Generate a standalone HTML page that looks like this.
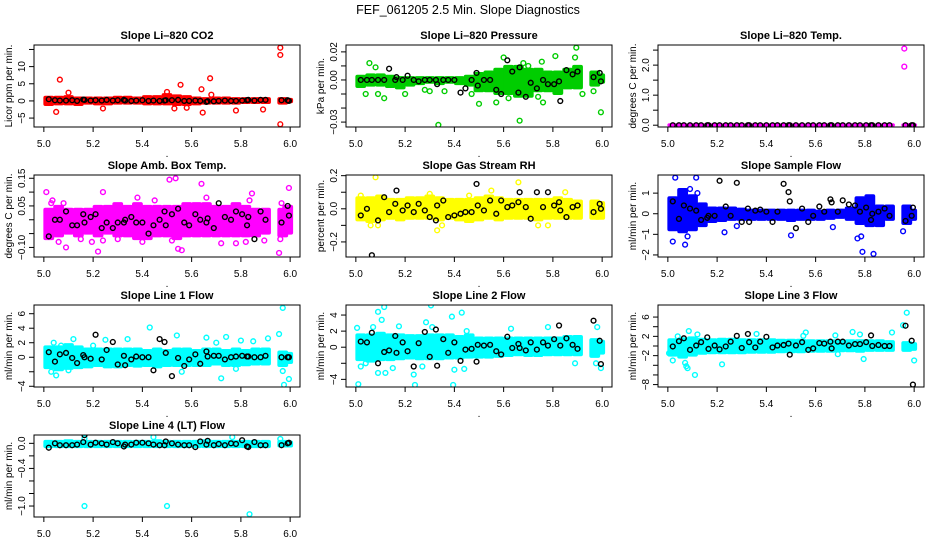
<!DOCTYPE html>
<html><head><meta charset="utf-8"><style>
html,body{margin:0;padding:0;background:#fff}
svg{display:block;font-family:"Liberation Sans",sans-serif}
</style></head><body>
<svg id="c" width="936" height="540" viewBox="0 0 936 540">
<text x="468" y="14" text-anchor="middle" font-size="12.5">FEF_061205  2.5 Min. Slope Diagnostics</text>
</svg>
<script>
// shared x data
const binX=[5.02,5.06,5.10,5.14,5.18,5.22,5.26,5.30,5.34,5.38,5.42,5.46,5.50,5.54,5.58,5.62,5.66,5.70,5.74,5.78,5.82,5.86,5.90,5.97,5.99];
const blackX=[5.02,5.045,5.065,5.09,5.115,5.135,5.16,5.165,5.19,5.21,5.235,5.255,5.28,5.30,5.325,5.33,5.355,5.375,5.40,5.425,5.445,5.47,5.49,5.495,5.52,5.545,5.57,5.59,5.615,5.635,5.66,5.665,5.69,5.71,5.735,5.76,5.78,5.805,5.825,5.83,5.855,5.88,5.90,5.965,5.99,5.995];
const xTicks=[5.0,5.2,5.4,5.6,5.8,6.0];
const xTickLabels=["5.0","5.2","5.4","5.6","5.8","6.0"];

// CO2
const co2Lo=[-1.2,-1,-1,-1.2,-0.8,-1,-1,-0.8,-0.8,-0.8,-1,-1,-1,-1.2,-1.2,-1,-0.8,-0.8,-0.8,-0.8,-0.6,-0.6,-0.6,-0.8,-0.4];
const co2Hi=[1.2,1.2,1.4,1,1,1,1,1.2,1.2,1,1.4,1.4,2,1.6,1.4,1,0.8,1,1,0.8,0.8,0.8,0.8,0.8,0.6];
const co2Out=[[5.05,-3.2],[5.065,6.2],[5.10,2.4],[5.24,-2.2],[5.53,-2.2],[5.555,4.7],[5.64,3.4],[5.645,-3.4],[5.675,6.6],[5.68,1.8],[5.78,-2.8],[5.89,-2.5],[5.96,15.5],[5.96,13.4],[5.96,-6.8],[5.58,-2],[5.50,2.6]];
const co2Black=[0.5,0.2,0.1,0.1,0.2,0,0.4,0.3,0.1,0.2,0.1,0.3,0.1,0.2,0.3,0.1,0,0.1,0.2,0,0.1,0,0.1,0.2,0.2,0.3,0,0,0.1,0,-0.3,-0.1,-0.1,0,0.1,0,0,0.1,0.2,0.3,0.1,0.3,0.3,0.2,0.2,0];
// Pressure
const presLo=[-0.005,-0.004,-0.004,-0.005,-0.006,-0.004,-0.003,-0.002,-0.003,-0.002,-0.003,-0.004,-0.008,-0.008,-0.010,-0.010,-0.012,-0.012,-0.008,-0.008,-0.010,-0.006,-0.006,-0.004,-0.002];
const presHi=[0.003,0.004,0.004,0.003,0.002,0.002,0.002,0.002,0.002,0.002,0.002,0.003,0.005,0.006,0.008,0.010,0.010,0.008,0.008,0.006,0.006,0.008,0.010,0.006,0.004];
const presOut=[[5.055,0.012],[5.08,0.009],[5.04,-0.010],[5.09,-0.010],[5.115,-0.013],[5.20,-0.010],[5.28,-0.007],[5.30,-0.008],[5.335,-0.032],[5.36,-0.008],[5.47,-0.010],[5.50,-0.017],[5.57,-0.016],[5.62,-0.013],[5.665,-0.029],[5.68,0.012],[5.74,-0.012],[5.755,0.013],[5.76,-0.016],[5.81,0.017],[5.895,0.023],[5.89,0.016],[5.60,0.016],[5.70,0.010],[5.92,-0.010],[5.965,-0.008],[5.995,-0.023]];
const presBlack=[0,0,0,0,0,0.008,0,0.002,0,0.003,0,-0.001,0,0,0,-0.003,0,0,0,-0.009,-0.006,0,0.005,-0.004,0,0,-0.007,-0.010,0.014,0.006,-0.009,0.009,-0.012,-0.002,-0.006,0,-0.003,-0.003,-0.001,-0.015,0.007,0.004,0.006,0.002,0.005,-0.001];
// Li-820 temp
const tempLo=[-0.02,-0.02,-0.02,-0.02,-0.02,-0.02,-0.02,-0.02,-0.02,-0.02,-0.02,-0.02,-0.02,-0.02,-0.02,-0.02,-0.02,-0.02,-0.02,-0.02,-0.02,-0.02,-0.02,-0.02,-0.02];
const tempHi=[0.03,0.03,0.03,0.03,0.03,0.03,0.03,0.03,0.03,0.03,0.03,0.03,0.03,0.03,0.03,0.03,0.03,0.03,0.03,0.03,0.03,0.03,0.03,0.03,0.03];
const tempOut=[[5.96,2.55],[5.96,1.95]];
const tempBlack=[0,0,0,0,0,0,0,0,0,0,0,0,0,0,0,0,0,0,0,0,0,0,0,0,0,0,0,0,0,0,0,0,0,0,0,0,0,0,0,0,0,0,0,0,0,0];
// Amb box temp
const ambLo=[-0.07,-0.06,-0.05,-0.06,-0.05,-0.06,-0.05,-0.06,-0.06,-0.07,-0.07,-0.06,-0.06,-0.07,-0.06,-0.06,-0.06,-0.06,-0.06,-0.06,-0.06,-0.06,-0.05,-0.06,-0.05];
const ambHi=[0.04,0.05,0.04,0.04,0.04,0.05,0.05,0.06,0.05,0.06,0.05,0.05,0.05,0.05,0.06,0.06,0.06,0.05,0.05,0.06,0.05,0.04,0.04,0.04,0.05];
const ambOut=[[5.01,0.10],[5.035,0.07],[5.06,-0.08],[5.09,-0.10],[5.08,0.06],[5.15,-0.07],[5.195,-0.08],[5.22,-0.115],[5.24,0.10],[5.24,-0.075],[5.30,-0.07],[5.38,0.08],[5.40,-0.08],[5.45,0.07],[5.51,0.145],[5.535,0.15],[5.52,-0.075],[5.545,-0.105],[5.56,-0.11],[5.64,0.13],[5.66,0.08],[5.72,-0.085],[5.78,-0.085],[5.82,-0.08],[5.835,0.07],[5.845,0.095],[5.895,-0.075],[5.955,-0.12],[5.96,-0.07],[5.965,0.06],[5.995,0.115],[5.03,0.06]];
const ambBlack=[-0.06,0,0,0.03,-0.02,-0.02,0.02,-0.01,0.01,0.02,-0.03,-0.01,-0.03,-0.01,-0.01,0,0.01,-0.01,-0.01,-0.05,-0.02,0,0.03,-0.02,0.02,0.04,-0.01,-0.02,0.02,0,-0.01,0.005,-0.03,0.06,0.01,0,0.03,0.02,-0.02,0.01,-0.07,0.03,0,-0.01,0.05,0.015];
// RH
const rhLo=[-0.07,-0.08,-0.07,-0.06,-0.07,-0.06,-0.06,-0.06,-0.07,-0.06,-0.07,-0.08,-0.07,-0.06,-0.07,-0.06,-0.06,-0.06,-0.07,-0.06,-0.06,-0.06,-0.06,-0.06,-0.06];
const rhHi=[0.07,0.07,0.08,0.06,0.06,0.07,0.07,0.08,0.07,0.06,0.06,0.06,0.07,0.08,0.07,0.06,0.06,0.06,0.06,0.06,0.07,0.06,0.05,0.05,0.04];
const rhOut=[[5.08,0.19],[5.06,-0.1],[5.09,-0.1],[5.33,-0.13],[5.35,-0.1],[5.55,0.11],[5.66,0.16],[5.74,-0.1],[5.78,-0.1],[5.85,0.1],[5.02,0.08],[5.30,0.09],[5.46,0.08]];
const rhBlack=[-0.04,0,-0.28,-0.07,0.07,-0.02,0.03,0.11,-0.01,0.02,-0.02,0.03,-0.01,-0.05,-0.07,0.02,0.05,-0.05,-0.04,-0.03,-0.02,-0.02,0.15,0.02,-0.01,0.05,-0.03,0.05,0.01,0.02,0.04,0.1,0.01,-0.06,0.1,0.01,0.1,0.02,0.04,-0.01,-0.05,0.01,0.02,-0.02,0.03,0];
// Sample flow
const sfLo=[-0.8,-0.9,-0.8,-0.6,-0.4,-0.35,-0.3,-0.3,-0.3,-0.3,-0.3,-0.3,-0.35,-0.3,-0.3,-0.3,-0.25,-0.2,-0.3,-0.5,-0.6,-0.6,-0.3,-0.5,-0.3];
const sfHi=[0.8,1.2,0.9,0.5,0.3,0.3,0.3,0.25,0.2,0.2,0.2,0.2,0.2,0.2,0.2,0.15,0.2,0.2,0.3,0.8,0.9,0.4,0.4,0.4,0.2];
const sfOut=[[5.03,1.75],[5.115,1.75],[5.02,-1.35],[5.07,-1.5],[5.08,-1.1],[5.23,-0.9],[5.28,-0.6],[5.50,-1.05],[5.67,-0.65],[5.77,-1.2],[5.785,-1.1],[5.79,-1.85],[5.835,-1.95],[5.955,-0.85],[5.12,1.0],[5.09,1.2]];
const sfBlack=[0.6,-0.25,0.4,0.25,0.15,-0.3,-0.2,-0.1,-0.1,1.6,0.35,-0.1,1.5,-0.4,0.25,-0.4,0.15,0.2,0.1,-0.4,0.1,1.45,1.05,0.6,-0.7,0.25,-0.4,-0.1,0.35,0.1,0.7,0.55,0.1,0.65,0.45,0.4,0.1,0.3,-0.3,0,0.1,0.25,-0.1,-0.35,-0.1,0.3];
// Line 1
const l1Lo=[-1.5,-1.8,-1.6,-1.5,-1.4,-1.2,-1.4,-1.4,-1.2,-1.3,-1.2,-1.4,-1.2,-1.2,-1.2,-1.2,-1.2,-1.0,-1.2,-1.2,-1.1,-1.0,-1.0,-1.2,-0.8];
const l1Hi=[1.5,1.5,1.8,1.5,1.2,1.2,1.2,1.2,1.2,1.2,1.0,1.2,1.0,1.2,1.2,1.0,1.2,1.2,1.0,1.2,1.0,1.2,1.2,0.8,0.6];
const l1Out=[[5.03,-2],[5.04,2],[5.05,-2.5],[5.07,1.6],[5.12,2.5],[5.20,1.6],[5.25,2.4],[5.34,2.5],[5.43,4.1],[5.54,3],[5.56,-2],[5.66,2.7],[5.72,-2.9],[5.74,2.8],[5.70,2],[5.80,2.3],[5.85,2.2],[5.91,2.6],[5.955,3.2],[5.97,6.8],[5.975,-3.8],[5.995,-3],[5.97,-1.9],[5.10,-1.8],[5.78,-1.6]];
const l1Black=[0.7,-0.6,0.4,0.6,-0.1,-0.8,0.3,0,-0.2,3.1,-0.3,1,2.1,-1,0.2,-1.1,-0.3,0.1,0,0,-1.8,2.5,2.1,0.6,-2.6,-0.1,-1.2,-0.3,0.4,-0.9,0.8,0.1,0.2,0.2,-0.3,0,0.1,0.2,0.1,0.1,0,0,0.2,0,0,0];
// Line 2
const l2Lo=[-1.6,-1.8,-1.6,-1.6,-1.5,-1.4,-1.5,-1.5,-1.5,-1.4,-1.4,-1.3,-1.3,-1.3,-1.2,-1.1,-1.0,-1.1,-1.1,-1.0,-1.0,-1.0,-1.0,-1.2,-0.8];
const l2Hi=[1.6,1.6,1.8,1.6,1.6,1.5,1.5,1.6,1.6,1.6,1.4,1.6,1.2,1.2,1.2,1.2,1.2,1.2,1.2,1.2,1.2,1.4,1.4,1.0,0.8];
const l2Out=[[5.005,2.4],[5.01,-4.6],[5.02,-2.4],[5.04,-2],[5.07,2.5],[5.09,4.4],[5.09,-3.2],[5.105,3.4],[5.115,5],[5.12,-3.2],[5.15,-2.6],[5.175,2.6],[5.235,-3.4],[5.24,-4.7],[5.27,-2.4],[5.285,3.1],[5.305,5.2],[5.31,2.5],[5.39,3.8],[5.395,-4.7],[5.40,-2.8],[5.43,4.3],[5.44,-2.7],[5.45,2.0],[5.78,2.5],[5.89,-2],[5.98,2.5],[5.975,-2],[5.995,-2.6],[5.63,2.3]];
const l2Black=[0.7,0.6,1.8,-2,-0.6,-0.4,1.4,-0.7,0.6,-0.5,-2.4,0.5,1.9,-1.2,2.2,-2.3,1,-0.7,0.6,-1.7,-0.3,-0.2,-1.8,0.3,0.2,0.3,-0.5,-0.9,1.3,-0.1,0.4,-0.1,-0.4,0.6,-0.3,0.6,0.2,1.0,2.7,0.2,1.1,0.3,-0.2,3.3,0.8,-2.1];
// Line 3
const l3Lo=[-2,-2.4,-2,-1.6,-1.5,-1.5,-1.5,-1.5,-1.4,-1.4,-1.4,-1.3,-1.3,-1.3,-1.2,-1.2,-1.2,-1.1,-1.1,-1.2,-1.0,-1.0,-1.0,-1.0,-0.8];
const l3Hi=[1.4,1.6,1.8,1.5,1.4,1.5,1.5,1.4,1.4,1.4,1.4,1.3,1.3,1.3,1.2,1.2,1.2,1.2,1.2,1.2,1.2,1.2,1.0,0.8,0.6];
const l3Out=[[5.005,-1.5],[5.02,-3],[5.04,2],[5.07,-3.5],[5.075,-4.2],[5.08,-4.6],[5.085,3.1],[5.11,-6],[5.12,2.4],[5.22,-3.8],[5.36,2.5],[5.56,2.8],[5.55,2.1],[5.69,-1.7],[5.75,2.9],[5.78,2.4],[5.795,-2.7],[5.91,2.8],[5.955,4.3],[5.97,6.9],[6.0,-3],[5.68,2.2]];
const l3Black=[-0.1,1,1.6,-0.8,0.1,0.8,1.8,-0.6,0.1,-0.7,-0.1,0.9,2.1,-0.4,2.5,0.8,-0.3,0.9,1.9,-0.3,0.1,0.2,0.5,-1.8,0.1,0.8,-0.8,-0.5,0.6,0.5,0.9,-0.5,0.9,0.9,0.1,0.4,0.4,0.8,2.2,0,0.2,0,0,4.2,1.1,-8];
// Line 4
const l4Lo=[-0.06,-0.06,-0.06,-0.06,-0.06,-0.06,-0.06,-0.06,-0.06,-0.06,-0.06,-0.06,-0.06,-0.06,-0.06,-0.06,-0.06,-0.06,-0.06,-0.06,-0.06,-0.06,-0.06,-0.05,-0.05];
const l4Hi=[0.04,0.04,0.05,0.04,0.04,0.04,0.04,0.04,0.04,0.04,0.04,0.05,0.04,0.04,0.04,0.04,0.05,0.04,0.04,0.04,0.04,0.04,0.04,0.04,0.03];
const l4Out=[[5.165,-1.0],[5.50,-1.0],[5.835,-1.13],[5.445,0.1],[5.765,0.1],[5.96,0.07],[5.165,0.08]];
const l4Black=[-0.07,0,-0.03,-0.03,-0.03,-0.02,0.02,0.13,-0.02,0.01,0,-0.02,0.02,0,-0.05,-0.02,-0.02,0.01,0.01,0,-0.02,-0.03,-0.03,0.03,0,-0.02,-0.03,-0.03,-0.06,0.03,-0.02,0.04,-0.03,-0.01,-0.03,0,-0.01,0.05,-0.05,-0.06,0.02,-0.03,-0.03,-0.03,0,0.01];

const panels=[
 {name:"co2",title:"Slope Li\u2013820 CO2",ylab:"Licor ppm per min.",col:0,row:0,ylim:[-7.6,16.3],ticks:[-5,0,5,10,15],labels:["\u22125","0","5","10",""],color:"#ff0000",lo:co2Lo,hi:co2Hi,out:co2Out,black:co2Black},
 {name:"pressure",title:"Slope Li\u2013820 Pressure",ylab:"kPa per min.",col:1,row:0,ylim:[-0.0335,0.0249],ticks:[-0.03,-0.02,-0.01,0,0.01,0.02],labels:["\u22120.03","","","0.00","","0.02"],color:"#00cd00",lo:presLo,hi:presHi,out:presOut,black:presBlack},
 {name:"li820-temp",title:"Slope Li\u2013820 Temp.",ylab:"degrees C per min.",col:2,row:0,ylim:[-0.06,2.67],ticks:[0,0.5,1,1.5,2,2.5],labels:["0.0","","1.0","","2.0",""],color:"#ff00ff",lo:tempLo,hi:tempHi,out:tempOut,black:tempBlack},
 {name:"amb-box-temp",title:"Slope Amb. Box Temp.",ylab:"degrees C per min.",col:0,row:1,ylim:[-0.1346,0.1618],ticks:[-0.1,-0.05,0,0.05,0.1,0.15],labels:["\u22120.10","","","0.05","","0.15"],color:"#ff00ff",lo:ambLo,hi:ambHi,out:ambOut,black:ambBlack},
 {name:"gas-stream-rh",title:"Slope Gas Stream RH",ylab:"percent per min.",col:1,row:1,ylim:[-0.291,0.204],ticks:[-0.2,-0.1,0,0.1,0.2],labels:["\u22120.2","","0.0","","0.2"],color:"#ffff00",lo:rhLo,hi:rhHi,out:rhOut,black:rhBlack},
 {name:"sample-flow",title:"Slope Sample Flow",ylab:"ml/min per min.",col:2,row:1,ylim:[-2.1,1.88],ticks:[-2,-1,0,1],labels:["\u22122","\u22121","0","1"],color:"#0000ff",lo:sfLo,hi:sfHi,out:sfOut,black:sfBlack},
 {name:"line1-flow",title:"Slope Line 1 Flow",ylab:"ml/min per min.",col:0,row:2,ylim:[-4.1,7.2],ticks:[-4,-2,0,2,4,6],labels:["\u22124","","0","2","4","6"],color:"#00ffff",lo:l1Lo,hi:l1Hi,out:l1Out,black:l1Black},
 {name:"line2-flow",title:"Slope Line 2 Flow",ylab:"ml/min per min.",col:1,row:2,ylim:[-4.95,5.25],ticks:[-4,-2,0,2,4],labels:["\u22124","","0","2","4"],color:"#00ffff",lo:l2Lo,hi:l2Hi,out:l2Out,black:l2Black},
 {name:"line3-flow",title:"Slope Line 3 Flow",ylab:"ml/min per min.",col:2,row:2,ylim:[-8.5,8.5],ticks:[-8,-6,-4,-2,0,2,4,6],labels:["\u22128","","","\u22122","","2","","6"],color:"#00ffff",lo:l3Lo,hi:l3Hi,out:l3Out,black:l3Black},
 {name:"line4-flow",title:"Slope Line 4 (LT) Flow",ylab:"ml/min per min.",col:0,row:3,ylim:[-1.175,0.133],ticks:[-1,-0.8,-0.6,-0.4,-0.2,0],labels:["\u22121.0","","","\u22120.4","","0.0"],color:"#00ffff",lo:l4Lo,hi:l4Hi,out:l4Out,black:l4Black}
];
const colLeft=[34,346,658], rowTop=[45,175,305,435], W=266, H=82;
const svg=document.getElementById('c'), NS="http://www.w3.org/2000/svg";
function mk(tag,attrs,parent){const e=document.createElementNS(NS,tag);for(const k in attrs)e.setAttribute(k,attrs[k]);(parent||svg).appendChild(e);return e;}
panels.forEach(p=>{
  const L=colLeft[p.col],T=rowTop[p.row];
  const g=mk('g',{});
  
  
  const xs=v=>L+(v-4.96)/(6.04-4.96)*W;
  const ys=v=>T+H-(v-p.ylim[0])/(p.ylim[1]-p.ylim[0])*H;
  const clip=mk('clipPath',{id:'cl'+p.name},g);
  mk('rect',{x:L,y:T,width:W,height:H},clip);
  const dg=mk('g',{'clip-path':'url(#cl'+p.name+')'},g);
  binX.forEach((bx,i)=>{
    const r=mk('rect',{x:xs(bx-0.022),y:ys(p.hi[i])-1,width:xs(bx+0.022)-xs(bx-0.022),height:ys(p.lo[i])-ys(p.hi[i])+2,rx:2,fill:p.color},dg);
    
    
  });
  p.out.forEach(pt=>{
    const c=mk('circle',{cx:xs(pt[0]),cy:ys(pt[1]),r:2.4,fill:'none',stroke:p.color,'stroke-width':1.4},dg);
    
    
  });
  blackX.forEach((bx,i)=>{
    const c=mk('circle',{cx:xs(bx),cy:ys(p.black[i]),r:2.4,fill:'none',stroke:'#000','stroke-width':1.4},dg);
    
    
  });
  const box=mk('rect',{x:L,y:T,width:W,height:H,fill:'none',stroke:'#000','stroke-width':1},g);
  
  
  mk('line',{x1:xs(5.0),x2:xs(6.0),y1:T+H,y2:T+H,stroke:'#000'},g);
  xTicks.forEach((t,i)=>{
    mk('line',{x1:xs(t),x2:xs(t),y1:T+H,y2:T+H+5,stroke:'#000'},g);
    const tx=mk('text',{x:xs(t),y:T+H+20,'text-anchor':'middle','font-size':10},g);
    tx.textContent=xTickLabels[i];
    
    
  });
  const xl=mk('text',{x:L+W/2,y:T+H+30,'text-anchor':'middle','font-size':10},g);
  xl.textContent='.';
  
  
  mk('line',{x1:L,x2:L,y1:ys(p.ticks[0]),y2:ys(p.ticks[p.ticks.length-1]),stroke:'#000'},g);
  p.ticks.forEach((t,i)=>{
    mk('line',{x1:L-5,x2:L,y1:ys(t),y2:ys(t),stroke:'#000'},g);
    if(p.labels[i]){
      const tx=mk('text',{x:L-9,y:ys(t),'text-anchor':'middle','font-size':10,transform:`rotate(-90 ${L-9} ${ys(t)})`},g);
      tx.textContent=p.labels[i];
      
      
    }
  });
  const yl=mk('text',{x:L-22,y:T+H/2,'text-anchor':'middle','font-size':10,transform:`rotate(-90 ${L-22} ${T+H/2})`},g);
  yl.textContent=p.ylab;
  
  
  const tt=mk('text',{x:L+W/2,y:T-6,'text-anchor':'middle','font-size':11,'font-weight':'bold'},g);
  tt.textContent=p.title;
  
  
});
</script>
</body></html>
